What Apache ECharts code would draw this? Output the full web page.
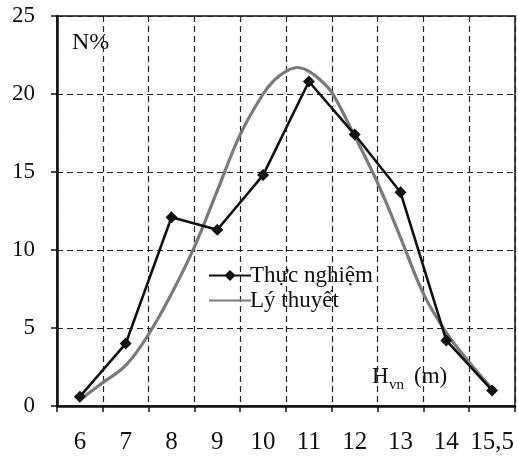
<!DOCTYPE html>
<html>
<head>
<meta charset="utf-8">
<script src="https://cdn.jsdelivr.net/npm/echarts@6/dist/echarts.min.js"></script>
<style>
  html, body { margin: 0; padding: 0; background: #fff; }
  #chart { width: 518px; height: 456px; }
</style>
</head>
<body>
<div id="chart"></div>
<script>
// chiều cao vút ngọn (m)
const categories = ["6", "7", "8", "9", "10", "11", "12", "13", "14", "15,5"];
const thucNghiem = [0.6, 4.0, 12.1, 11.3, 14.8, 20.8, 17.4, 13.7, 4.2, 1.0];
// theoretical curve (x in category units, 0..10)
const lyThuyetX = [0.5, 1.0, 1.5, 2.0, 2.5, 3.0, 3.5, 4.0, 4.5, 4.75, 5.0, 5.25, 5.5, 5.75, 6.0, 6.5, 7.0, 7.5, 8.0, 8.5, 9.0, 9.5];
const lyThuyetY = [0.4, 1.5, 2.6, 4.6, 7.2, 10.2, 13.8, 17.4, 20.0, 20.9, 21.45, 21.7, 21.45, 20.9, 20.1, 17.3, 14.3, 10.8, 7.2, 4.7, 2.8, 1.1];

const FONT = "Liberation Serif";
const chart = echarts.init(document.getElementById("chart"));

const gridLine = { show: true, interval: 0, lineStyle: { color: "#222", type: [6, 4], width: 1.2 } };

chart.setOption({
  animation: false,
  backgroundColor: "#fff",
  grid: {
    left: 57, right: 3, top: 16, bottom: 50,
    show: true, borderColor: "#111", borderWidth: 1.5
  },
  legend: {
    orient: "vertical",
    left: 203, top: 259,
    itemWidth: 42, itemHeight: 14, itemGap: 2,
    textStyle: { fontFamily: FONT, fontSize: 23, color: "#111", padding: [0, 0, 0, -6] },
    data: [
      "Thực nghiệm",
      { name: "Lý thuyết", itemStyle: { opacity: 0 } }
    ]
  },
  xAxis: [
    {
      type: "category",
      data: categories,
      boundaryGap: true,
      axisLine: { lineStyle: { color: "#111", width: 2.5 } },
      axisTick: { show: true, interval: 0, length: 6, lineStyle: { color: "#111", width: 1.5 } },
      axisLabel: { interval: 0, fontFamily: FONT, fontSize: 25, color: "#111", margin: 24 },
      splitLine: gridLine
    },
    { type: "value", min: 0, max: 10, show: false, splitLine: { show: false } }
  ],
  yAxis: {
    type: "value",
    min: 0, max: 25, interval: 5,
    axisLine: { show: true, lineStyle: { color: "#111", width: 2.5 } },
    axisTick: { show: true, length: 6, lineStyle: { color: "#111", width: 1.5 } },
    axisLabel: { fontFamily: FONT, fontSize: 23, color: "#111", margin: 22 },
    splitLine: gridLine
  },
  graphic: [
    { type: "text", left: 72, top: 31, style: { text: "N%", font: "24px 'Liberation Serif'", fill: "#111" } },
    { type: "text", left: 372, top: 365, style: { text: "H", font: "23px 'Liberation Serif'", fill: "#111" } },
    { type: "text", left: 389, top: 378, style: { text: "vn", font: "15px 'Liberation Serif'", fill: "#111" } },
    { type: "text", left: 414, top: 365, style: { text: "(m)", font: "23px 'Liberation Serif'", fill: "#111" } }
  ],
  series: [
    {
      name: "Lý thuyết",
      type: "line",
      xAxisIndex: 1,
      data: lyThuyetX.map((x, i) => [x, lyThuyetY[i]]),
      smooth: 0.4,
      symbol: "none",
      lineStyle: { color: "#7a7a7a", width: 3.2 },
      itemStyle: { color: "#7a7a7a" },
      z: 2
    },
    {
      name: "Thực nghiệm",
      type: "line",
      data: thucNghiem,
      symbol: "diamond",
      symbolSize: 12,
      lineStyle: { color: "#111", width: 2.6 },
      itemStyle: { color: "#111" },
      z: 3
    }
  ]
});
</script>
</body>
</html>
